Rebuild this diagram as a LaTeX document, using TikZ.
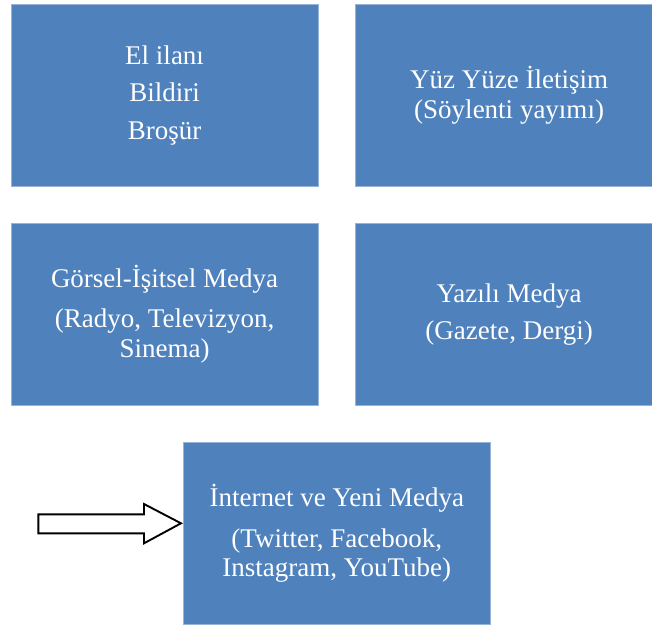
\documentclass[tikz,border=0pt]{standalone}
\usepackage{fontspec}
\setmainfont{Liberation Serif}
\definecolor{boxblue}{RGB}{79,129,189}
\definecolor{boxedge}{RGB}{150,180,215}
\tikzset{
  blockbox/.style={fill=boxblue, draw=boxedge, line width=0.6pt, text=white,
    align=center, font=\fontsize{27}{29.5}\selectfont, inner sep=0pt,
    minimum width=307pt, minimum height=182pt, anchor=north west},
  blockarrow/.style={draw=black, fill=white, line width=1.9pt, line join=miter}
}
\begin{document}
\begin{tikzpicture}[x=1pt,y=-1pt]
\useasboundingbox (0,0) rectangle (652,626);
\node[blockbox] (b1) at (10.8,3.8) {El ilanı\\[8pt]Bildiri\\[8pt]Broşür};
\node[blockbox] (b2) at (355.3,3.8) {Yüz Yüze İletişim\\(Söylenti yayımı)};
\node[blockbox] (b3) at (10.8,222.8) {Görsel-İşitsel Medya\\[10.5pt](Radyo, Televizyon,\\Sinema)};
\node[blockbox] (b4) at (355.3,222.8) {Yazılı Medya\\[7.5pt](Gazete, Dergi)};
\node[blockbox] (b5) at (183,441.8) {İnternet ve Yeni Medya\\[11.5pt](Twitter, Facebook,\\Instagram, YouTube)};
\coordinate (tip) at ([xshift=-2pt]b5.west);
\draw[blockarrow] (38.3,514.3) -- (144,514.3) -- (144,504) -- (tip |- 0,523.3) -- (144,543.3) -- (144,533.3) -- (38.3,533.3) -- cycle;
\end{tikzpicture}
\end{document}
